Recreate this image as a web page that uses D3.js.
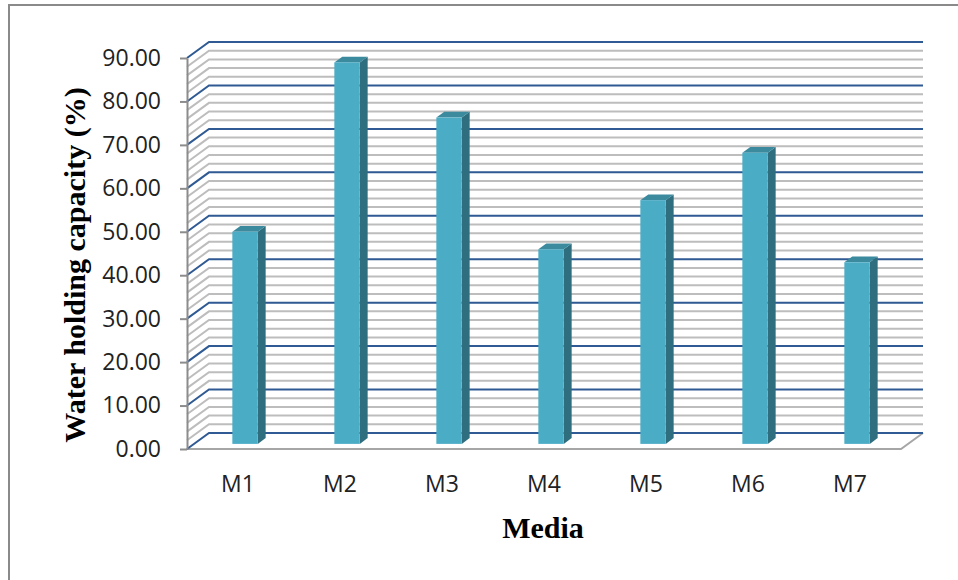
<!DOCTYPE html>
<html>
<head>
<meta charset="utf-8">
<script src="https://cdn.jsdelivr.net/npm/d3@7/dist/d3.min.js"></script>
<style>
  html, body { margin: 0; padding: 0; background: #fff; }
  svg { display: block; }
</style>
</head>
<body>
<svg id="chart" width="958" height="580"></svg>
<script>
// ---- data ----
const categories = ["M1", "M2", "M3", "M4", "M5", "M6", "M7"];
const values = [48.8, 87.8, 75.1, 44.8, 56.1, 67.0, 41.8];
const tickValues = [0, 10, 20, 30, 40, 50, 60, 70, 80, 90];
const minorStep = 2;
const yTitle = "Water holding capacity (%)";
const xTitle = "Media";

// ---- layout ----
const svg = d3.select("#chart");
const W = 958, H = 580;
const x0 = 187, x1 = 901, yBottom = 449, yTop = 58;
const DX = 22, DY = -16;          // 3D depth offset (front -> back)
const fFront = 0.32, fBack = 0.68; // bar depth position
const barW = 25.4;

const x = d3.scaleBand().domain(categories).range([x0, x1]);
const y = d3.scaleLinear().domain([0, 90]).range([yBottom, yTop]);

// outer border
svg.append("rect").attr("x", 9).attr("y", 5).attr("width", W + 20).attr("height", H + 20)
  .attr("fill", "#fff").attr("stroke", "#8a8a8a").attr("stroke-width", 2);

// floor
const floor = svg.append("g");
floor.append("path")
  .attr("d", `M${x0},${yBottom} L${x1},${yBottom} L${x1 + DX},${yBottom + DY} L${x0 + DX},${yBottom + DY} Z`)
  .attr("fill", "#fff").attr("stroke", "none");
floor.append("path")
  .attr("d", `M${x0},${yBottom} L${x1},${yBottom} L${x1 + DX},${yBottom + DY}`)
  .attr("fill", "none").attr("stroke", "#a6a6a6").attr("stroke-width", 2);

// gridlines (walls)
const gridVals = d3.range(0, 90 + 0.001, minorStep);
const grid = svg.append("g");
const minor = gridVals.filter(v => v % 10 !== 0);
const major = gridVals.filter(v => v % 10 === 0);
function gridPath(v) {
  const yf = y(v);
  return `M${x0},${yf} L${x0 + DX},${yf + DY} L${x1 + DX},${yf + DY}`;
}
grid.selectAll("path.minor").data(minor).join("path").attr("class", "minor")
  .attr("d", gridPath).attr("fill", "none").attr("stroke", "#bdbdbd").attr("stroke-width", 2);
grid.selectAll("path.major").data(major).join("path").attr("class", "major")
  .attr("d", gridPath).attr("fill", "none").attr("stroke", "#2f5a93").attr("stroke-width", 2);

// bars
const bars = svg.append("g");
categories.forEach((c, i) => {
  const v = values[i];
  const cx = x(c) + x.bandwidth() / 2;
  const fx = cx - barW / 2 + fFront * DX;
  const fyTop = y(v) + fFront * DY;
  const fyBot = y(0) + fFront * DY;
  const ddx = (fBack - fFront) * DX, ddy = (fBack - fFront) * DY;
  // side
  bars.append("path")
    .attr("d", `M${fx + barW},${fyTop} L${fx + barW + ddx},${fyTop + ddy} L${fx + barW + ddx},${fyBot + ddy} L${fx + barW},${fyBot} Z`)
    .attr("fill", "#2f6e7e");
  // top
  bars.append("path")
    .attr("d", `M${fx},${fyTop} L${fx + ddx},${fyTop + ddy} L${fx + barW + ddx},${fyTop + ddy} L${fx + barW},${fyTop} Z`)
    .attr("fill", "#3b8a9e");
  // front
  bars.append("rect")
    .attr("x", fx).attr("y", fyTop).attr("width", barW).attr("height", fyBot - fyTop)
    .attr("fill", "#4bacc6");
});

// y axis
const yAxis = svg.append("g").attr("transform", `translate(${x0},0)`)
  .call(d3.axisLeft(y).tickValues(tickValues).tickFormat(d3.format(".2f")).tickSize(7).tickSizeOuter(0).tickPadding(19));
yAxis.select(".domain").attr("stroke", "#8c8c8c").attr("stroke-width", 2);
yAxis.selectAll(".tick line").attr("stroke", "#8c8c8c").attr("stroke-width", 2);
yAxis.selectAll(".tick text").attr("font-family", "'Open Sans', sans-serif").attr("font-size", 23)
  .attr("fill", "#222");

// x axis labels
const xAxis = svg.append("g").attr("transform", `translate(0,${yBottom})`)
  .call(d3.axisBottom(x).tickSize(0).tickPadding(27));
xAxis.select(".domain").remove();
xAxis.selectAll(".tick text").attr("font-family", "'Open Sans', sans-serif").attr("font-size", 23)
  .attr("fill", "#222");

// titles
svg.append("text").attr("x", 543).attr("y", 538).attr("text-anchor", "middle")
  .attr("font-family", "'Liberation Serif', 'Times New Roman', serif").attr("font-weight", "bold")
  .attr("font-size", 30).attr("fill", "#000").text(xTitle);
svg.append("text").attr("transform", "translate(85,265) rotate(-90)").attr("text-anchor", "middle")
  .attr("font-family", "'Liberation Serif', 'Times New Roman', serif").attr("font-weight", "bold")
  .attr("font-size", 30).attr("fill", "#000").text(yTitle);
</script>
</body>
</html>
